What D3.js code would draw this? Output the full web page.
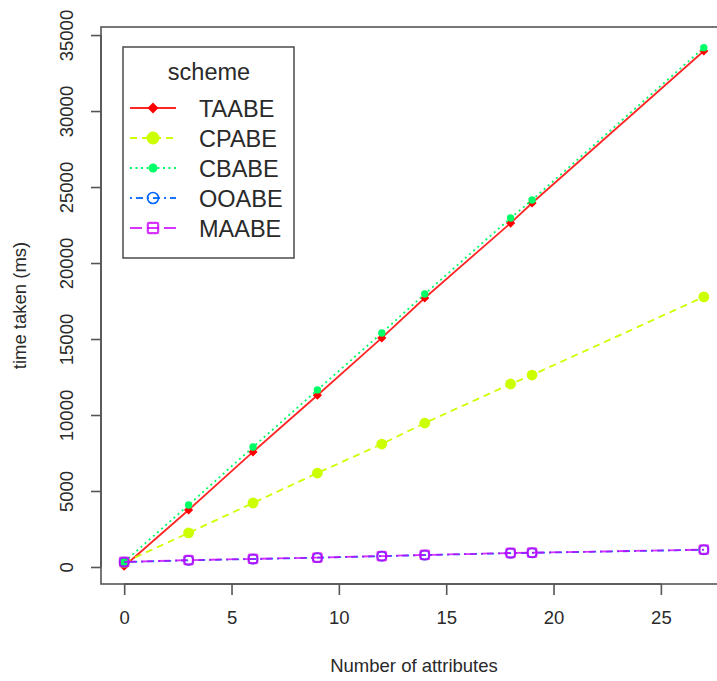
<!DOCTYPE html>
<html>
<head>
<meta charset="utf-8">
<script src="https://cdn.jsdelivr.net/npm/d3@7"></script>
<style>
  body { margin: 0; background: #fff; }
  text { font-family: "Liberation Sans", Arial, sans-serif; fill: #2a2a2a; }
</style>
</head>
<body>
<div id="chart"></div>
<script>
// data
var attributes = [0, 3, 6, 9, 12, 14, 18, 19, 27];
var taabe = [50, 3750, 7570, 11300, 15070, 17700, 22630, 23950, 33950];
var cpabe = [300, 2240, 4210, 6180, 8090, 9470, 12040, 12630, 17770];
var cbabe = [330, 4080, 7890, 11650, 15400, 17960, 22960, 24150, 34170];
var ooabe = [320, 440, 520, 610, 710, 780, 910, 930, 1130];
var maabe = [330, 450, 530, 620, 720, 790, 920, 940, 1140];
var schemes = ["TAABE", "CPABE", "CBABE", "OOABE", "MAABE"];
var xTicks = [0, 5, 10, 15, 20, 25];
var yTicks = [0, 5000, 10000, 15000, 20000, 25000, 30000, 35000];

var svgWidth = 717, svgHeight = 681;
var box = {left: 101, top: 27, right: 727, bottom: 584};

var svg = d3.select("#chart").append("svg")
  .attr("width", svgWidth).attr("height", svgHeight);

var x = d3.scaleLinear().domain([-1.08, 28.08]).range([box.left, box.right]);
var y = d3.scaleLinear().domain([-1120, 35530]).range([box.bottom, box.top]);

// R rainbow(5), lty 1..5, pch 18,19,20,1,0
var series = [
  {name: schemes[0], values: taabe, color: "#FF0000", dash: null,      sym: "diamond", op: 0.85},
  {name: schemes[1], values: cpabe, color: "#CCFF00", dash: "7,5",     sym: "bigdot",  op: 1},
  {name: schemes[2], values: cbabe, color: "#00FF66", dash: "2,3.5",   sym: "dot",     op: 1},
  {name: schemes[3], values: ooabe, color: "#0066FF", dash: "2,4,7,4", sym: "ring",    op: 0.9},
  {name: schemes[4], values: maabe, color: "#CC00FF", dash: "12,5",    sym: "square",  op: 0.8}
];

function drawSymbol(sel, s, k) {
  k = k || 1;
  if (s.sym === "diamond") {
    sel.append("path")
      .attr("d", d3.symbol(d3.symbolSquare, 42 * k * k)())
      .attr("transform", "rotate(45)")
      .attr("fill", s.color);
  } else if (s.sym === "bigdot") {
    sel.append("circle").attr("r", 5.4 * k).attr("fill", s.color);
  } else if (s.sym === "dot") {
    sel.append("circle").attr("r", 3.7 * k).attr("fill", s.color);
  } else if (s.sym === "ring") {
    sel.append("circle").attr("r", 4.6 * k).attr("fill", "none")
      .attr("stroke", s.color).attr("stroke-width", 1.6);
  } else {
    sel.append("rect").attr("x", -4.3 * k).attr("y", -4.3 * k)
      .attr("width", 8.6 * k).attr("height", 8.6 * k).attr("rx", 1.2)
      .attr("fill", "none").attr("stroke", s.color).attr("stroke-width", 2.2)
      .attr("stroke-opacity", s.op);
  }
}

// lines
var line = d3.line()
  .x(function(d, i) { return x(attributes[i]); })
  .y(function(d) { return y(d); });

series.forEach(function(s) {
  svg.append("path")
    .attr("d", line(s.values))
    .attr("fill", "none")
    .attr("stroke", s.color)
    .attr("stroke-opacity", s.op)
    .attr("stroke-width", 1.8)
    .attr("stroke-dasharray", s.dash);
  s.values.forEach(function(v, i) {
    var p = svg.append("g").attr("transform", "translate(" + x(attributes[i]) + "," + y(v) + ")");
    drawSymbol(p, s);
  });
});

// box
svg.append("rect")
  .attr("x", box.left).attr("y", box.top)
  .attr("width", box.right - box.left).attr("height", box.bottom - box.top)
  .attr("fill", "none").attr("stroke", "#555").attr("stroke-width", 1.6);

// x axis
var xAxis = svg.append("g").attr("transform", "translate(0," + box.bottom + ")")
  .call(d3.axisBottom(x).tickValues(xTicks).tickSize(11).tickPadding(16));
// y axis
var yAxis = svg.append("g").attr("transform", "translate(" + box.left + ",0)")
  .call(d3.axisLeft(y).tickValues(yTicks).tickFormat(d3.format("d")).tickSize(10));

[xAxis, yAxis].forEach(function(a) {
  a.select(".domain").attr("stroke", "#555").attr("stroke-width", 1.6);
  a.selectAll(".tick line").attr("stroke", "#555").attr("stroke-width", 1.6);
  a.selectAll("text").style("font-size", "18.5px").attr("fill", "#2a2a2a");
});
xAxis.select(".domain").attr("d", "M" + x(0) + ",0H" + x(25));
yAxis.select(".domain").attr("d", "M0," + y(0) + "V" + y(35000));
yAxis.selectAll(".tick text")
  .attr("x", null).attr("dy", null)
  .attr("text-anchor", "middle")
  .attr("transform", "translate(-28,0) rotate(-90)");

// axis titles
svg.append("text")
  .attr("x", (box.left + box.right) / 2).attr("y", 672)
  .attr("text-anchor", "middle").style("font-size", "18.5px")
  .text("Number of attributes");
svg.append("text")
  .attr("transform", "translate(26," + (box.top + box.bottom) / 2 + ") rotate(-90)")
  .attr("text-anchor", "middle").style("font-size", "18.5px")
  .text("time taken (ms)");

// legend
var lg = svg.append("g");
lg.append("rect")
  .attr("x", 123).attr("y", 47).attr("width", 171).attr("height", 211)
  .attr("fill", "#fff").attr("stroke", "#555").attr("stroke-width", 1.6);
lg.append("text")
  .attr("x", 209).attr("y", 80)
  .attr("text-anchor", "middle").style("font-size", "23.5px")
  .text("scheme");
series.forEach(function(s, i) {
  var cy = 108 + i * 30;
  var row = lg.append("g").attr("transform", "translate(0," + cy + ")");
  row.append("line")
    .attr("x1", 130).attr("x2", 176).attr("y1", 0).attr("y2", 0)
    .attr("stroke", s.color).attr("stroke-opacity", s.op).attr("stroke-width", 1.8)
    .attr("stroke-dasharray", s.dash);
  drawSymbol(row.append("g").attr("transform", "translate(153,0)"), s, 1.2);
  row.append("text")
    .attr("x", 199).attr("y", 8.5)
    .style("font-size", "23.5px")
    .text(s.name);
});
</script>
</body>
</html>
